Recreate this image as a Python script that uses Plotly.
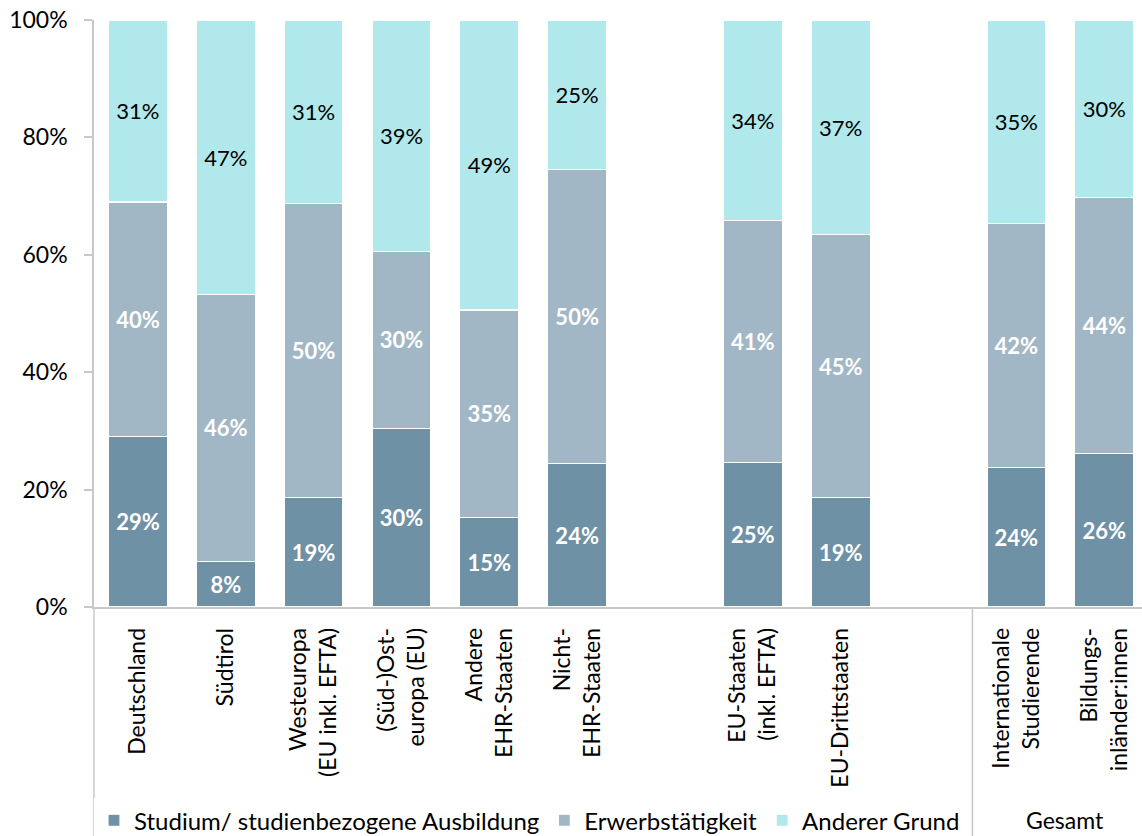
import plotly.graph_objects as go

categories = [
    "Deutschland",
    "Südtirol",
    "Westeuropa<br>(EU inkl. EFTA)",
    "(Süd-)Ost-<br>europa (EU)",
    "Andere<br>EHR-Staaten",
    "Nicht-<br>EHR-Staaten",
    " ",
    "EU-Staaten<br>(inkl. EFTA)",
    "EU-Drittstaaten",
    "  ",
    "Internationale<br>Studierende",
    "Bildungs-<br>inländer:innen",
]

studium = [29.0, 7.7, 18.6, 30.4, 15.3, 24.4, None, 24.6, 18.6, None, 23.7, 26.2]
erwerb = [40.0, 45.6, 50.2, 30.2, 35.3, 50.2, None, 41.2, 44.8, None, 41.7, 43.6]
anderer = [31.0, 46.7, 31.2, 39.4, 49.4, 25.4, None, 34.2, 36.6, None, 34.6, 30.2]

y_tickvals = [0, 20, 40, 60, 80, 100]
y_ticktext = ["0%", "20%", "40%", "60%", "80%", "100%"]

series_names = ["Studium/ studienbezogene Ausbildung", "Erwerbstätigkeit", "Anderer Grund"]
colors = ["#6F91A5", "#A2B7C5", "#B0E8EB"]
text_colors = ["white", "white", "black"]
text_bold = [True, True, False]

FONT = "Lato, 'Open Sans', sans-serif"
AXIS = "#C8C8C8"

fig = go.Figure()
for name, vals, col, tcol, bold in zip(series_names, [studium, erwerb, anderer], colors, text_colors, text_bold):
    tmpl = "<b>%{y:.0f}%</b>" if bold else "%{y:.0f}%"
    fig.add_trace(go.Bar(
        x=categories, y=vals, name=name,
        marker=dict(color=col, line=dict(color="white", width=1.2)),
        texttemplate=tmpl, textposition="inside", insidetextanchor="middle",
        textangle=0, constraintext="none",
        textfont=dict(color=tcol, size=22, family=FONT),
        hoverinfo="skip",
    ))

plot_bottom_px = 229
plot_h = 836 - 20 - plot_bottom_px
below = -plot_bottom_px / plot_h

fig.update_layout(
    barmode="stack",
    bargap=0.33,
    width=1142, height=836,
    margin=dict(l=94, r=0, t=20, b=plot_bottom_px, autoexpand=False),
    paper_bgcolor="white", plot_bgcolor="white",
    font=dict(family=FONT, size=22, color="black"),
    showlegend=True,
    legend=dict(
        orientation="h", x=0.0, xanchor="left", y=-0.364, yanchor="middle",
        font=dict(size=24, family=FONT), traceorder="normal",
        itemwidth=30,
    ),
    xaxis=dict(
        type="category", range=[-0.5, 11.43], showline=True, linecolor=AXIS, linewidth=1.5,
        ticks="", tickangle=-90, tickfont=dict(size=23, family=FONT),
        ticklabelstandoff=10, showgrid=False, fixedrange=True,
    ),
    yaxis=dict(
        range=[0, 100], tickmode="array", tickvals=y_tickvals, ticktext=y_ticktext,
        showline=True, linecolor=AXIS, linewidth=1.5, ticks="outside", ticklen=8,
        tickcolor=AXIS, tickwidth=1.5, tickfont=dict(size=23, family=FONT),
        ticklabelstandoff=12, showgrid=False, zeroline=False, fixedrange=True,
    ),
    shapes=[
        dict(type="line", xref="paper", yref="paper", x0=0, x1=0, y0=0, y1=below,
             line=dict(color=AXIS, width=1.5)),
        dict(type="line", xref="x", yref="paper", x0=9.5, x1=9.5, y0=0, y1=below,
             line=dict(color=AXIS, width=1.5)),
    ],
    annotations=[
        dict(text="Gesamt", xref="x", yref="paper", x=10.55, y=-0.363, xanchor="center",
             yanchor="middle", showarrow=False, font=dict(size=23, family=FONT)),
    ],
)

fig.write_html("out.html")
